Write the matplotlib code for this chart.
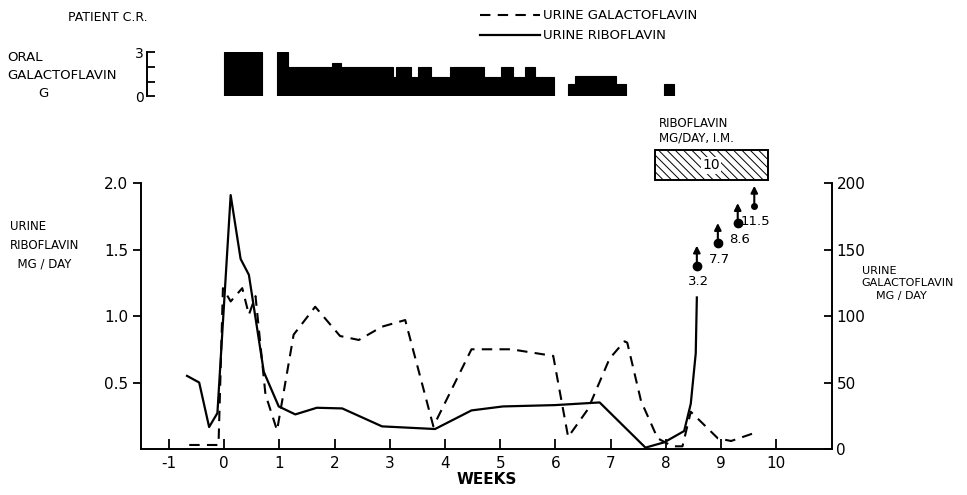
import matplotlib
matplotlib.use('Agg')
from matplotlib import pyplot as plt
from matplotlib.patches import Rectangle

# oral galactoflavin doses (g), bars from start week to end week
bar_start = [0.0, 0.95, 1.15, 1.95, 2.12, 3.05, 3.12, 3.38, 3.52, 3.75, 4.1, 4.7, 5.02, 5.23, 5.45, 5.63,
             6.23, 6.35, 7.09, 7.96]
bar_end = [0.68, 1.15, 1.95, 2.12, 3.05, 3.12, 3.38, 3.52, 3.75, 4.1, 4.7, 5.02, 5.23, 5.45, 5.63, 5.97,
           6.35, 7.09, 7.27, 8.14]
bar_g = [3.0, 3.0, 2.0, 2.25, 2.0, 1.3, 2.0, 1.3, 2.0, 1.3, 2.0, 1.3, 2.0, 1.3, 2.0, 1.3,
         0.85, 1.4, 0.85, 0.8]

# urine riboflavin, mg/day (left axis)
ribo_week = [-0.67, -0.45, -0.27, -0.12, 0.12, 0.3, 0.45, 0.72, 0.99, 1.29, 1.68, 2.14, 2.86, 3.82,
             4.48, 5.05, 5.99, 6.8, 7.63, 7.97, 8.33, 8.45, 8.54, 8.56]
ribo_mg = [0.55, 0.50, 0.165, 0.27, 1.91, 1.43, 1.31, 0.58, 0.32, 0.26, 0.31, 0.305, 0.17, 0.15,
           0.29, 0.32, 0.33, 0.35, 0.01, 0.05, 0.135, 0.34, 0.72, 1.14]

# urine galactoflavin, mg/day (right axis)
galacto_week = [-0.63, -0.12, -0.1, -0.02, 0.12, 0.33, 0.45, 0.57, 0.75, 0.96, 1.26, 1.65, 2.1, 2.44,
                2.86, 3.28, 3.79, 4.48, 5.2, 5.96, 6.23, 6.59, 6.98, 7.25, 7.3, 7.55, 7.85, 8.12,
                8.3, 8.45, 8.94, 9.18, 9.6]
galacto_mg = [3, 3, 3, 121, 111, 121, 101, 115, 41, 14, 86, 107, 85, 82, 92, 97, 17, 75, 75, 70, 9,
              30, 68, 81, 80, 36, 8, 2, 2, 28, 8, 6, 12]

# off-scale riboflavin values after i.m. injections
flag_week = [8.56, 8.94, 9.3, 9.6]
flag_mg = [1.38, 1.55, 1.70, 1.83]
flag_text = ['3.2', '7.7', '8.6', '11.5']

weeks = [-1, 0, 1, 2, 3, 4, 5, 6, 7, 8, 9, 10]

plt.rcParams['font.family'] = 'DejaVu Sans'
plt.rcParams['hatch.linewidth'] = 0.7

fig = plt.figure(figsize=(9.67, 4.95), dpi=100)

# main panel
ax = fig.add_axes([0.146, 0.093, 0.714, 0.537])
ax2 = ax.twinx()

ax.plot(ribo_week, ribo_mg, color='black', linewidth=1.6, label='URINE RIBOFLAVIN')
ax2.plot(galacto_week, galacto_mg, color='black', linewidth=1.5, linestyle=(0, (5, 3.5)),
         label='URINE GALACTOFLAVIN')

for w, v, t in zip(flag_week, flag_mg, flag_text):
    ax.plot(w, v, 'o', color='black', markersize=6 if t != '11.5' else 4, clip_on=False)
    ax.annotate('', xy=(w, v + 0.15), xytext=(w, v),
                arrowprops=dict(arrowstyle='-|>', color='black', lw=1.5, mutation_scale=10,
                                shrinkA=0, shrinkB=0),
                annotation_clip=False)
    ax.annotate(t, xy=(w, v), xytext=(1, -7), textcoords='offset points',
                ha='center', va='top', fontsize=9.5)

ax.set_xlim(-1.5, 11)
ax.set_ylim(0, 2.0)
ax2.set_ylim(0, 200)

ax.set_xticks(weeks)
ax.set_xticklabels([str(w) for w in weeks], fontsize=11)
ax.set_yticks([0.5, 1.0, 1.5, 2.0])
ax.set_yticklabels(['0.5', '1.0', '1.5', '2.0'], fontsize=11)
ax2.set_yticks([0, 50, 100, 150, 200])
ax2.set_yticklabels(['0', '50', '100', '150', '200'], fontsize=11)

ax.tick_params(axis='x', direction='in', length=7, width=1.3, pad=5)
ax.tick_params(axis='y', direction='out', length=6, width=1.3)
ax2.tick_params(axis='y', direction='in', length=6, width=1.3)

for a in (ax, ax2):
    a.spines['top'].set_visible(False)
    for s in ('left', 'right', 'bottom'):
        a.spines[s].set_linewidth(1.4)
ax.spines['right'].set_visible(False)
ax2.spines['left'].set_visible(False)
ax2.spines['bottom'].set_visible(False)

ax.set_xlabel('WEEKS', fontsize=11, fontweight='bold', labelpad=1)

# riboflavin injection box
ax.add_patch(Rectangle((7.8, 2.02), 2.05, 0.23, facecolor='white', edgecolor='black',
                       hatch='\\\\\\\\', linewidth=1.4, clip_on=False))
ax.text(8.82, 2.135, '10', ha='center', va='center', fontsize=10,
        bbox=dict(facecolor='white', edgecolor='none', pad=1))
ax.text(7.88, 2.29, 'RIBOFLAVIN\nMG/DAY, I.M.', ha='left', va='bottom', fontsize=8.5,
        linespacing=1.2)

# oral dose panel
axt = fig.add_axes([0.146, 0.806, 0.714, 0.088], sharex=ax)
axt.bar(bar_start, bar_g, width=[e - s for s, e in zip(bar_start, bar_end)], align='edge',
        color='black', edgecolor='black', linewidth=0.8)
axt.set_ylim(0, 3)
axt.set_yticks([0, 1, 2, 3])
axt.set_yticklabels(['0', '', '', '3'], fontsize=11)
axt.tick_params(axis='y', direction='in', length=6, width=1.3, pad=2)
axt.tick_params(axis='x', bottom=False, labelbottom=False)
for s in ('top', 'right', 'bottom'):
    axt.spines[s].set_visible(False)
axt.spines['left'].set_linewidth(1.4)
axt.spines['left'].set_position(('axes', 0.008))

# texts
fig.text(0.070, 0.964, 'PATIENT C.R.', fontsize=9, ha='left', va='center')
fig.text(0.008, 0.883, 'ORAL', fontsize=9.5, ha='left', va='center')
fig.text(0.008, 0.848, 'GALACTOFLAVIN', fontsize=9.5, ha='left', va='center')
fig.text(0.045, 0.812, 'G', fontsize=9.5, ha='center', va='center')
fig.text(0.010, 0.505, 'URINE\nRIBOFLAVIN\n  MG / DAY', fontsize=8.5, ha='left', va='center',
         linespacing=1.6)
fig.text(0.891, 0.428, 'URINE\nGALACTOFLAVIN\n    MG / DAY', fontsize=8, ha='left', va='center',
         linespacing=1.3)

h1, l1 = ax2.get_legend_handles_labels()
h2, l2 = ax.get_legend_handles_labels()
fig.legend(h1 + h2, l1 + l2, loc='upper left', bbox_to_anchor=(0.487, 1.0), frameon=False,
           fontsize=9.5, handlelength=4.5, handletextpad=0.3, labelspacing=0.55, borderpad=0.2)

fig.savefig('out.png', dpi=100)
